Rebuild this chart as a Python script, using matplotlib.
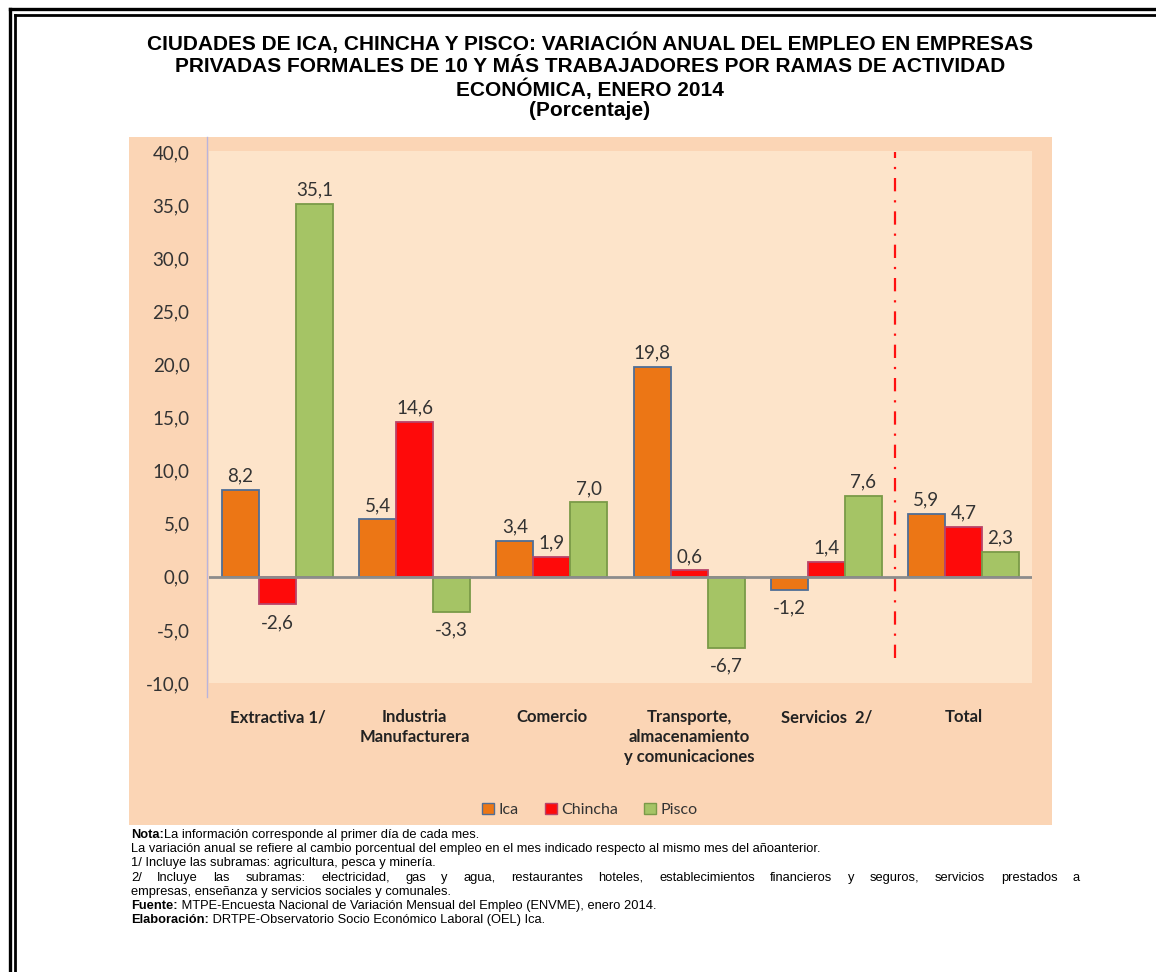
import matplotlib
matplotlib.use("Agg")
import matplotlib.pyplot as plt
import numpy as np
from matplotlib.patches import Rectangle, Patch
from matplotlib.lines import Line2D

# data
categories = ["Extractiva 1/", "Industria\nManufacturera", "Comercio",
              "Transporte,\nalmacenamiento\ny comunicaciones", "Servicios  2/", "Total"]
series_names = ["Ica", "Chincha", "Pisco"]
ica = [8.2, 5.4, 3.4, 19.8, -1.2, 5.9]
chincha = [-2.6, 14.6, 1.9, 0.6, 1.4, 4.7]
pisco = [35.1, -3.3, 7.0, -6.7, 7.6, 2.3]
yticks = [-10, -5, 0, 5, 10, 15, 20, 25, 30, 35, 40]

title_lines = ["CIUDADES DE ICA, CHINCHA Y PISCO: VARIACIÓN ANUAL DEL EMPLEO EN EMPRESAS",
               "PRIVADAS FORMALES DE 10 Y MÁS TRABAJADORES POR RAMAS DE ACTIVIDAD",
               "ECONÓMICA, ENERO 2014",
               "(Porcentaje)"]
notes = [
    ("Nota:", "La información corresponde al primer día de cada mes.", False),
    ("", "La variación anual se refiere al cambio porcentual del empleo en el mes indicado respecto al mismo mes del añoanterior.", False),
    ("", "1/ Incluye las subramas: agricultura, pesca y minería.", False),
    ("", "2/ Incluye las subramas: electricidad, gas y agua, restaurantes hoteles, establecimientos financieros y seguros, servicios prestados a", True),
    ("", "empresas, enseñanza y servicios sociales y comunales.", False),
    ("Fuente:", " MTPE-Encuesta Nacional de Variación Mensual del Empleo (ENVME), enero 2014.", False),
    ("Elaboración:", " DRTPE-Observatorio Socio Económico Laboral (OEL) Ica.", False),
]

colors = ["#EC7615", "#FE0A0A", "#A5C465"]
edges = ["#4F6E96", "#B8446A", "#7A9A48"]
outer_bg = "#FBD5B5"
inner_bg = "#FDE4CA"
label_font = "Lato"
text_col = "#333333"

W, H = 1156, 972
fig = plt.figure(figsize=(W / 100, H / 100), dpi=100)
fig.patch.set_facecolor("white")


def fx(px):
    return px / W


def fy(py):
    return 1 - py / H


# double border (top and left)
for off, lw in [(9.5, 2.4), (15, 2.0)]:
    fig.add_artist(Line2D([fx(off), fx(W + 5)], [fy(off), fy(off)], color="black", lw=lw,
                          transform=fig.transFigure))
    fig.add_artist(Line2D([fx(off), fx(off)], [fy(off), fy(H + 5)], color="black", lw=lw,
                          transform=fig.transFigure))

# outer chart area
fig.add_artist(Rectangle((fx(129), fy(825)), fx(1052) - fx(129), fy(137) - fy(825),
                         facecolor=outer_bg, edgecolor="none", transform=fig.transFigure, zorder=0))

ax = fig.add_axes([fx(209), fy(683), fx(1032) - fx(209), fy(151) - fy(683)])
ax.set_facecolor(inner_bg)
for s in ax.spines.values():
    s.set_visible(False)

x = np.arange(len(categories))
w = 0.27
for i, vals in enumerate([ica, chincha, pisco]):
    pos = x + (i - 1) * w
    bars = ax.bar(pos, vals, w, color=colors[i], edgecolor=edges[i], linewidth=1.3, zorder=3)
    for b, v in zip(bars, vals):
        ax.annotate(f"{v:.1f}".replace(".", ","),
                    (b.get_x() + b.get_width() / 2, v),
                    xytext=(0, 4 if v >= 0 else -7), textcoords="offset points",
                    ha="center", va="bottom" if v >= 0 else "top",
                    fontsize=13.5, color=text_col, family=label_font, zorder=5)

ax.axhline(0, color="#8C8C8C", lw=2, zorder=4)
# separator before Total
ax.plot([4.5, 4.5], [-7.6, 40], color="#FF1010", lw=1.6, linestyle=(0, (6, 4, 1, 4)), zorder=2)

ax.set_xlim(-0.5, len(categories) - 0.5)
ax.set_ylim(-10, 40.1)
ax.set_yticks(yticks)
ax.set_yticklabels([f"{t:.1f}".replace(".", ",") for t in yticks],
                   fontsize=13.5, color=text_col, family=label_font)
ax.set_xticks(x)
ax.set_xticklabels(categories, fontsize=12, fontweight="bold", color="#222222",
                   family=label_font, linespacing=1.3, va="top")
ax.tick_params(axis="y", length=0, pad=14)
ax.tick_params(axis="x", length=0, pad=19)

# y axis line
fig.add_artist(Line2D([fx(207), fx(207)], [fy(137), fy(697)], color="#B9B4DC", lw=1.0,
                      transform=fig.transFigure))

# legend
handles = [Patch(facecolor=c, edgecolor=e, linewidth=1.0, label=n)
           for c, e, n in zip(colors, edges, series_names)]
fig.legend(handles=handles, loc="center", bbox_to_anchor=(fx(590), fy(810)), ncol=3,
           frameon=False, prop={"family": label_font, "size": 11.5},
           handlelength=0.75, handleheight=0.75, handletextpad=0.3, columnspacing=1.6,
           labelcolor=text_col)

# title
for ty, line in zip([43, 66, 89, 111], title_lines):
    fig.text(fx(590), fy(ty), line, ha="center", va="center", fontsize=15,
             fontweight="bold", family="Liberation Sans")

# notes
renderer = fig.canvas.get_renderer()
note_size = 9.3
y0 = 835
for k, (bold, rest, justify) in enumerate(notes):
    yy = fy(y0 + k * 14.2)
    xx = fx(131)
    if bold:
        t = fig.text(xx, yy, bold, ha="left", va="center", fontsize=note_size, fontweight="bold",
                     family="Liberation Sans")
        xx = t.get_window_extent(renderer).x1 / W
    if justify:
        # spread words to the right margin like the justified paragraph
        words = rest.split(" ")
        widths = []
        arts = []
        for wd in words:
            a = fig.text(0, yy, wd, ha="left", va="center", fontsize=note_size,
                         family="Liberation Sans")
            arts.append(a)
            widths.append(a.get_window_extent(renderer).width)
        gap = (1080 - 131 - sum(widths)) / (len(words) - 1)
        cur = 131
        for a, wdt in zip(arts, widths):
            a.set_x(fx(cur))
            cur += wdt + gap
    else:
        fig.text(xx, yy, rest, ha="left", va="center", fontsize=note_size, family="Liberation Sans")

fig.savefig("out.png", dpi=100)
